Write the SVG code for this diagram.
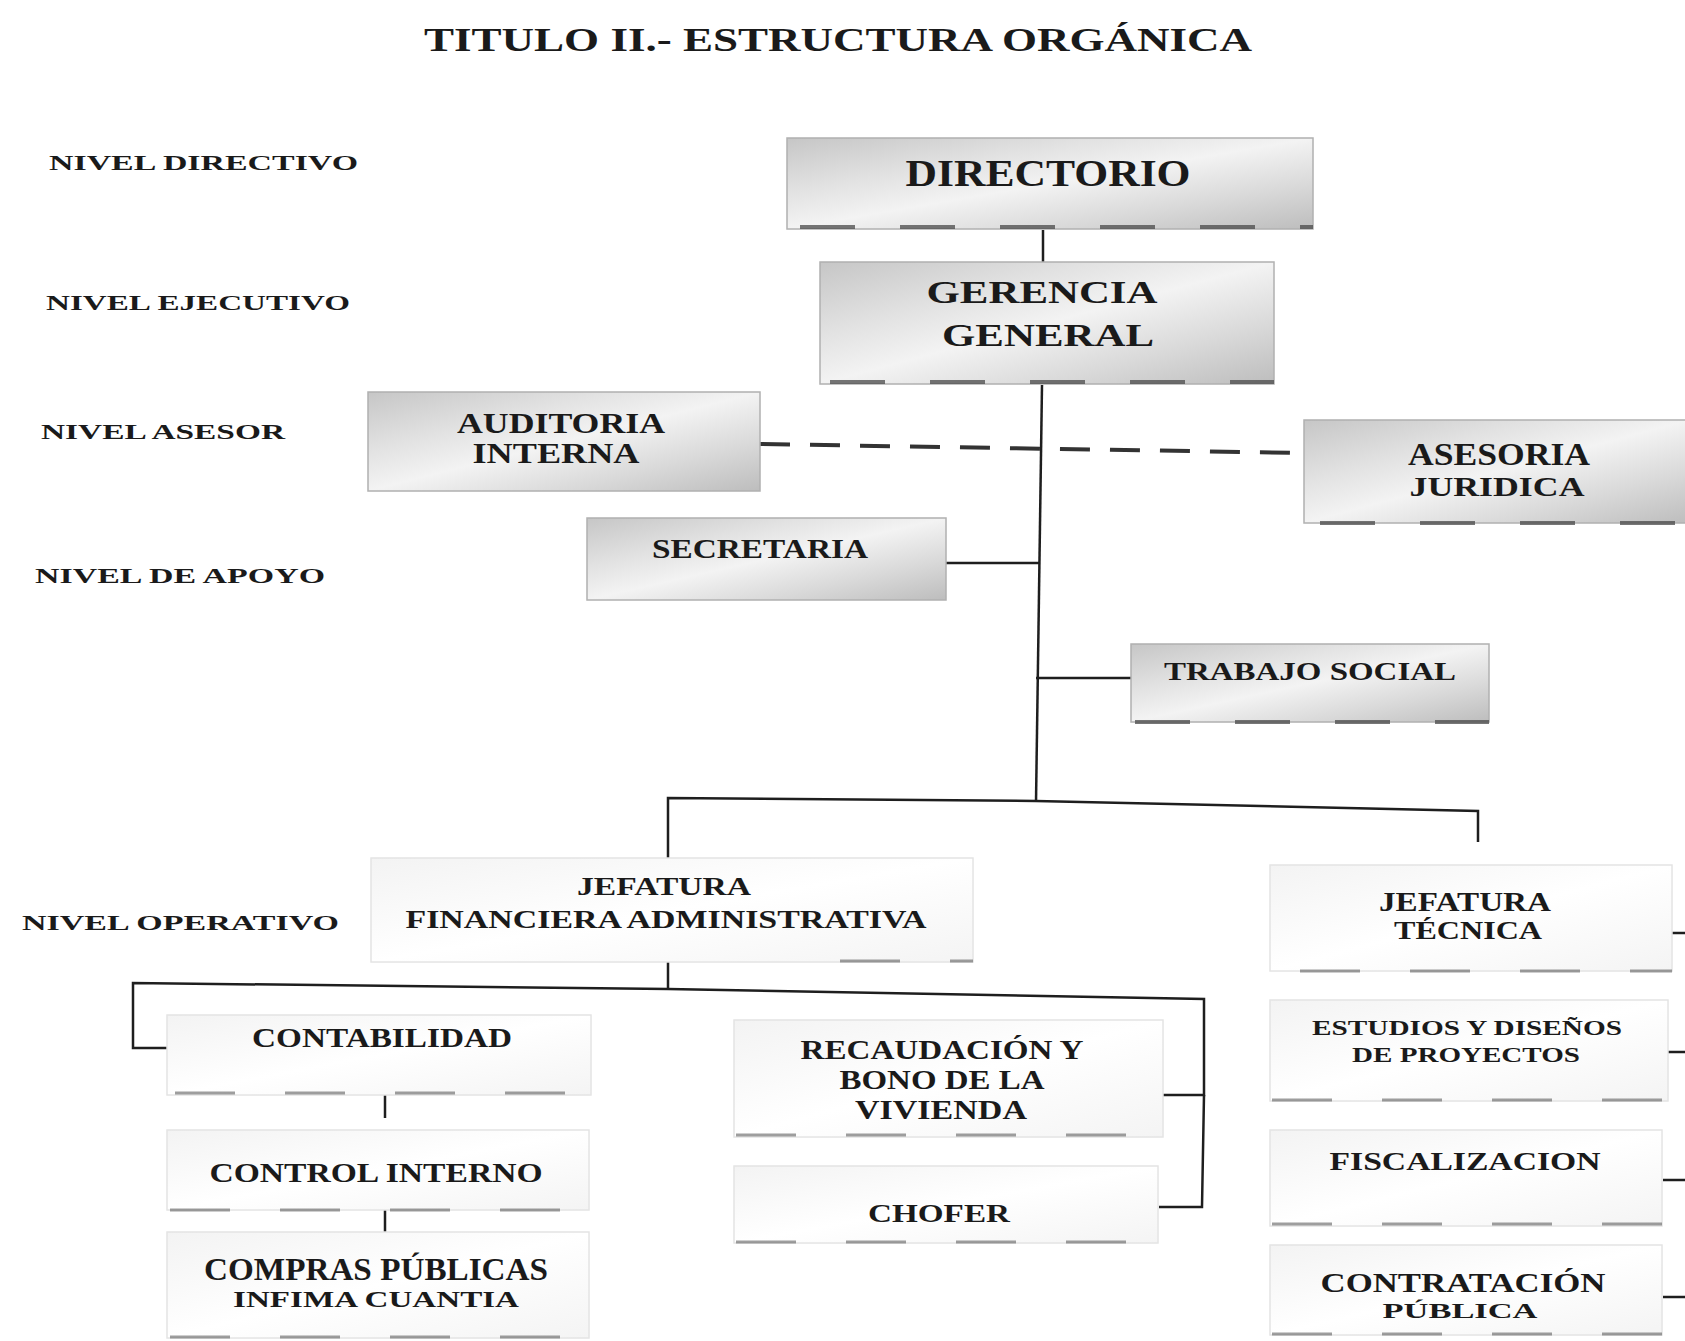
<svg xmlns="http://www.w3.org/2000/svg" width="1685" height="1341" viewBox="0 0 1685 1341">
<defs>
<linearGradient id="gbox" x1="0" y1="0" x2="1" y2="1">
<stop offset="0" stop-color="#c6c6c6"/>
<stop offset="0.3" stop-color="#e2e2e2"/>
<stop offset="0.5" stop-color="#f3f3f3"/>
<stop offset="0.75" stop-color="#d9d9d9"/>
<stop offset="1" stop-color="#bdbdbd"/>
</linearGradient>
<linearGradient id="gpale" x1="0" y1="0" x2="1" y2="1">
<stop offset="0" stop-color="#f3f3f3"/>
<stop offset="0.5" stop-color="#ffffff"/>
<stop offset="1" stop-color="#f4f4f4"/>
</linearGradient>
<style>
.box{fill:url(#gbox);stroke:#b0b0b0;stroke-width:1.5}
.pbox{fill:url(#gpale);stroke:#e4e4e4;stroke-width:1.5}
.sh{stroke:#4a4a4a;stroke-width:4;stroke-dasharray:55 45;fill:none;opacity:0.75}
.psh{stroke:#6a6a6a;stroke-width:3;stroke-dasharray:60 50;fill:none;opacity:0.65}
.t{font-family:"Liberation Serif","Times New Roman",serif;font-weight:bold;fill:#1a1a1a;text-anchor:middle}
.lv{font-family:"Liberation Serif","Times New Roman",serif;font-weight:bold;fill:#1a1a1a;font-size:22px}
.ln{stroke:#1e1e1e;stroke-width:2.5;fill:none}
.dash{stroke:#333;stroke-width:4;stroke-dasharray:30 20;fill:none}
</style>
</defs>
<rect width="1685" height="1341" fill="#ffffff"/>

<text x="424" y="51" font-family="Liberation Serif,serif" font-weight="bold" font-size="34" fill="#1a1a1a" textLength="828" lengthAdjust="spacingAndGlyphs">TITULO II.-   ESTRUCTURA ORGÁNICA</text>

<g id="levels">
<text class="lv" x="49" y="170" textLength="309" lengthAdjust="spacingAndGlyphs">NIVEL DIRECTIVO</text>
<text class="lv" x="46" y="310" textLength="304" lengthAdjust="spacingAndGlyphs">NIVEL EJECUTIVO</text>
<text class="lv" x="41" y="439" textLength="244" lengthAdjust="spacingAndGlyphs">NIVEL ASESOR</text>
<text class="lv" x="35" y="583" textLength="290" lengthAdjust="spacingAndGlyphs">NIVEL DE APOYO</text>
<text class="lv" x="22" y="930" textLength="317" lengthAdjust="spacingAndGlyphs">NIVEL OPERATIVO</text>
</g>

<g id="connectors">
<line class="ln" x1="1043" y1="230" x2="1043" y2="263"/>
<polyline class="ln" points="1042,385 1036,802"/>
<line class="dash" x1="760" y1="444" x2="1304" y2="453"/>
<line class="ln" x1="946" y1="563" x2="1039" y2="563"/>
<line class="ln" x1="1036" y1="678" x2="1131" y2="678"/>
<polyline class="ln" points="668,858 668,798 1036,801 1478,811 1478,842"/>
<polyline class="ln" points="668,962 668,989"/>
<polyline class="ln" points="173,1048 133,1048 133,983 668,989 1204,999 1204,1095 1163,1095"/>
<polyline class="ln" points="1204,1095 1202,1207 1159,1207"/>
<line class="ln" x1="385" y1="1095" x2="385" y2="1118"/>
<line class="ln" x1="385" y1="1210" x2="385" y2="1237"/>
<line class="ln" x1="1672" y1="933" x2="1685" y2="933"/>
<line class="ln" x1="1668" y1="1052" x2="1685" y2="1052"/>
<line class="ln" x1="1663" y1="1180" x2="1685" y2="1180"/>
<line class="ln" x1="1663" y1="1297" x2="1685" y2="1297"/>
</g>

<g id="directorio">
<rect class="box" x="787" y="138" width="526" height="91"/>
<line class="sh" x1="800" y1="227" x2="1313" y2="227"/>
<text class="t" x="1048" y="186" font-size="38" textLength="285" lengthAdjust="spacingAndGlyphs">DIRECTORIO</text>
</g>

<g id="gerencia">
<rect class="box" x="820" y="262" width="454" height="122"/>
<line class="sh" x1="830" y1="382" x2="1274" y2="382"/>
<text class="t" x="1042" y="303" font-size="32" textLength="231" lengthAdjust="spacingAndGlyphs">GERENCIA</text>
<text class="t" x="1048" y="346" font-size="32" textLength="212" lengthAdjust="spacingAndGlyphs">GENERAL</text>
</g>

<g id="auditoria">
<rect class="box" x="368" y="392" width="392" height="99"/>
<text class="t" x="561" y="433" font-size="30" textLength="208" lengthAdjust="spacingAndGlyphs">AUDITORIA</text>
<text class="t" x="556" y="463" font-size="30" textLength="167" lengthAdjust="spacingAndGlyphs">INTERNA</text>
</g>

<g id="asesoria">
<rect class="box" x="1304" y="420" width="385" height="103"/>
<line class="sh" x1="1320" y1="523" x2="1685" y2="523"/>
<text class="t" x="1499" y="465" font-size="32" textLength="182" lengthAdjust="spacingAndGlyphs">ASESORIA</text>
<text class="t" x="1497" y="496" font-size="27" textLength="175" lengthAdjust="spacingAndGlyphs">JURIDICA</text>
</g>

<g id="secretaria">
<rect class="box" x="587" y="518" width="359" height="82"/>
<text class="t" x="760" y="558" font-size="28" textLength="216" lengthAdjust="spacingAndGlyphs">SECRETARIA</text>
</g>

<g id="trabajo-social">
<rect class="box" x="1131" y="644" width="358" height="78"/>
<line class="sh" x1="1135" y1="722" x2="1489" y2="722"/>
<text class="t" x="1310" y="680" font-size="26" textLength="292" lengthAdjust="spacingAndGlyphs">TRABAJO SOCIAL</text>
</g>

<g id="jefatura-financiera">
<rect class="pbox" x="371" y="858" width="602" height="104"/>
<line class="psh" x1="840" y1="961" x2="973" y2="961"/>
<text class="t" x="664" y="895" font-size="26" textLength="174" lengthAdjust="spacingAndGlyphs">JEFATURA</text>
<text class="t" x="666" y="928" font-size="26" textLength="521" lengthAdjust="spacingAndGlyphs">FINANCIERA ADMINISTRATIVA</text>
</g>

<g id="jefatura-tecnica">
<rect class="pbox" x="1270" y="865" width="402" height="106"/>
<line class="psh" x1="1300" y1="971" x2="1672" y2="971"/>
<text class="t" x="1465" y="911" font-size="28" textLength="172" lengthAdjust="spacingAndGlyphs">JEFATURA</text>
<text class="t" x="1468" y="939" font-size="26" textLength="148" lengthAdjust="spacingAndGlyphs">TÉCNICA</text>
</g>

<g id="contabilidad">
<rect class="pbox" x="167" y="1015" width="424" height="80"/>
<line class="psh" x1="175" y1="1093" x2="591" y2="1093"/>
<text class="t" x="382" y="1047" font-size="28" textLength="260" lengthAdjust="spacingAndGlyphs">CONTABILIDAD</text>
</g>

<g id="control-interno">
<rect class="pbox" x="167" y="1130" width="422" height="80"/>
<line class="psh" x1="170" y1="1210" x2="589" y2="1210"/>
<text class="t" x="376" y="1182" font-size="28" textLength="333" lengthAdjust="spacingAndGlyphs">CONTROL INTERNO</text>
</g>

<g id="compras-publicas">
<rect class="pbox" x="167" y="1232" width="422" height="106"/>
<line class="psh" x1="170" y1="1337" x2="589" y2="1337"/>
<text class="t" x="376" y="1280" font-size="32" textLength="344" lengthAdjust="spacingAndGlyphs">COMPRAS PÚBLICAS</text>
<text class="t" x="376" y="1307" font-size="23" textLength="286" lengthAdjust="spacingAndGlyphs">INFIMA CUANTIA</text>
</g>

<g id="recaudacion">
<rect class="pbox" x="734" y="1020" width="429" height="117"/>
<line class="psh" x1="736" y1="1135" x2="1160" y2="1135"/>
<text class="t" x="942" y="1059" font-size="27" textLength="283" lengthAdjust="spacingAndGlyphs">RECAUDACIÓN Y</text>
<text class="t" x="942" y="1089" font-size="27" textLength="205" lengthAdjust="spacingAndGlyphs">BONO DE LA</text>
<text class="t" x="941" y="1119" font-size="27" textLength="172" lengthAdjust="spacingAndGlyphs">VIVIENDA</text>
</g>

<g id="chofer">
<rect class="pbox" x="734" y="1166" width="424" height="77"/>
<line class="psh" x1="736" y1="1242" x2="1158" y2="1242"/>
<text class="t" x="939" y="1222" font-size="26" textLength="142" lengthAdjust="spacingAndGlyphs">CHOFER</text>
</g>

<g id="estudios">
<rect class="pbox" x="1270" y="1000" width="398" height="101"/>
<line class="psh" x1="1272" y1="1100" x2="1668" y2="1100"/>
<text class="t" x="1467" y="1035" font-size="21" textLength="310" lengthAdjust="spacingAndGlyphs">ESTUDIOS Y DISEÑOS</text>
<text class="t" x="1466" y="1062" font-size="21" textLength="228" lengthAdjust="spacingAndGlyphs">DE PROYECTOS</text>
</g>

<g id="fiscalizacion">
<rect class="pbox" x="1270" y="1130" width="392" height="96"/>
<line class="psh" x1="1272" y1="1224" x2="1662" y2="1224"/>
<text class="t" x="1465" y="1170" font-size="26" textLength="271" lengthAdjust="spacingAndGlyphs">FISCALIZACION</text>
</g>

<g id="contratacion">
<rect class="pbox" x="1270" y="1245" width="392" height="90"/>
<line class="psh" x1="1272" y1="1334" x2="1662" y2="1334"/>
<text class="t" x="1463" y="1292" font-size="27" textLength="285" lengthAdjust="spacingAndGlyphs">CONTRATACIÓN</text>
<text class="t" x="1460" y="1318" font-size="22" textLength="155" lengthAdjust="spacingAndGlyphs">PÚBLICA</text>
</g>
</svg>
